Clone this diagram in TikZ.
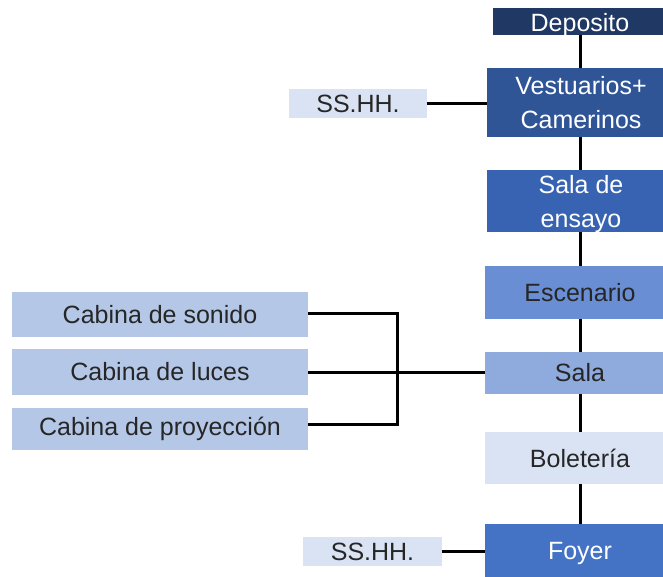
\documentclass[tikz,border=0pt]{standalone}
\usepackage{fontspec}
\setmainfont{Liberation Sans}
\definecolor{cDep}{HTML}{203864}
\definecolor{cVest}{HTML}{2F5597}
\definecolor{cEns}{HTML}{3763B2}
\definecolor{cEsc}{HTML}{6A8ED3}
\definecolor{cSala}{HTML}{8FAADC}
\definecolor{cPale}{HTML}{DAE3F3}
\definecolor{cFoy}{HTML}{4472C4}
\definecolor{cCab}{HTML}{B4C7E7}
\definecolor{cTxt}{HTML}{262626}
\begin{document}
\begin{tikzpicture}[x=1pt,y=-1pt,
  boxbase/.style={inner sep=0pt, align=center, font=\fontsize{25}{34}\selectfont},
  darkbox/.style={boxbase, text=white},
  lightbox/.style={boxbase, text=cTxt},
  link/.style={line width=3pt, black}]
\useasboundingbox (0,0) rectangle (663,576);
\begin{scope}
\clip (0,0) rectangle (663,576);
% right column
\node[darkbox, fill=cDep, minimum width=174pt, minimum height=27pt] (dep) at (580,21.5) {};
\node[darkbox, anchor=base] (deptx) at (580,31) {Deposito};
\node[darkbox, fill=cVest, minimum width=188pt, minimum height=69pt] (vest) at (581,102.5) {Vestuarios+\\Camerinos};
\node[darkbox, fill=cEns, minimum width=188pt, minimum height=62pt] (ens) at (581,201) {};
\node[darkbox] (enstx) at (581,204) {Sala de\\ensayo};
\node[lightbox, fill=cEsc, minimum width=190pt, minimum height=53pt] (esc) at (580,292.5) {Escenario};
\node[lightbox, fill=cSala, minimum width=190pt, minimum height=42pt] (sala) at (580,373) {Sala};
\node[lightbox, fill=cPale, minimum width=190pt, minimum height=52pt] (bol) at (580,458) {Boletería};
\node[darkbox, fill=cFoy, minimum width=190pt, minimum height=58pt] (foy) at (580,553) {Foyer};
% side boxes
\node[lightbox, fill=cPale, minimum width=138pt, minimum height=29pt] (ss1) at (358,103.5) {SS.HH.};
\node[lightbox, fill=cPale, minimum width=139pt, minimum height=29pt] (ss2) at (372.5,551.5) {SS.HH.};
\node[lightbox, fill=cCab, minimum width=296pt, minimum height=45pt] (cs) at (160,314.5) {Cabina de sonido};
\node[lightbox, fill=cCab, minimum width=296pt, minimum height=46pt] (cl) at (160,372) {Cabina de luces};
\node[lightbox, fill=cCab, minimum width=296pt, minimum height=42pt] (cp) at (160,429) {Cabina de proyección};
\coordinate (jx) at (397,372);
\coordinate (csE) at (308,313);
\coordinate (cpE) at (308,424);
% connectors
\draw[link] (dep.south) -- (dep.south |- vest.north);
\draw[link] (dep.south |- vest.south) -- (dep.south |- ens.north);
\draw[link] (dep.south |- ens.south) -- (esc.north);
\draw[link] (esc.south) -- (sala.north);
\draw[link] (sala.south) -- (bol.north);
\draw[link] (bol.south) -- (foy.north);
\draw[link] (ss1.east) -- (ss1.east -| vest.west);
\draw[link] (ss2.east) -- (ss2.east -| foy.west);
\draw[link] (csE) -| (jx |- cpE) -- (cpE);
\draw[link] (cl.east) -- (cl.east -| sala.west);
\end{scope}
\end{tikzpicture}
\end{document}
